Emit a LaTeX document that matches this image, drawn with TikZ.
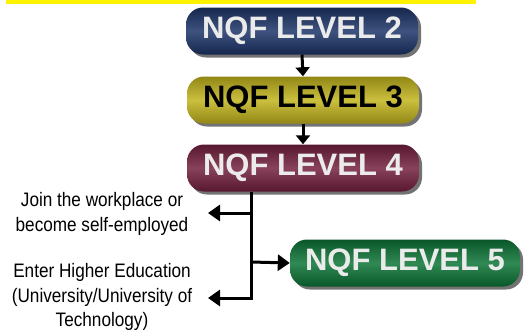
\documentclass[tikz,border=0pt]{standalone}
\usepackage{fontspec}
\setmainfont{Liberation Sans}
\newfontfamily\narrowfont[FakeStretch=0.88]{Liberation Sans}
\usetikzlibrary{arrows.meta,shadows}

\definecolor{navy}{HTML}{1C3468}
\definecolor{olive}{HTML}{C2B41C}
\definecolor{wine}{HTML}{74203E}
\definecolor{leaf}{HTML}{0C7436}

\tikzset{
  level/.style={rounded corners=17pt, minimum width=232pt, minimum height=47pt,
    font=\fontsize{31}{31}\selectfont\bfseries, inner sep=0pt,
    shading angle=70, top color=#1!75!black, bottom color=#1!75!black, middle color=#1!85!white,
    drop shadow={shadow xshift=3pt, shadow yshift=-3pt, fill=black!55, opacity=1}},
  flow/.style={line width=3pt, -{Triangle[length=12pt,width=16pt]}},
  note/.style={align=center, font=\narrowfont\fontsize{19.5}{24.5}\selectfont}
}

\begin{document}
\begin{tikzpicture}[x=1pt,y=-1pt]
  \useasboundingbox (0,0) rectangle (529,333);
  \fill[yellow] (6,0) rectangle (476,3.5);

  \node[level=navy, text=black!8] (L2) at (302,31) {NQF LEVEL 2};
  \node[level=olive, text=black] (L3) at (303,100) {NQF LEVEL 3};
  \node[level=wine, text=black!8] (L4) at (303,168) {NQF LEVEL 4};
  \node[level=leaf, text=black!8, minimum width=230pt] (L5) at (405,263) {NQF LEVEL 5};

  \node[note] (work) at (102,214) {Join the workplace or\\become self-employed};
  \node[note] (edu) at (102,297) {Enter Higher Education\\(University/University of\\Technology)};

  \coordinate (t0) at (251,192);
  \coordinate (t1) at (251,213);
  \coordinate (t2) at (251,262);
  \coordinate (a1) at (208,213);
  \coordinate (a3) at (208,298);

  \draw[flow, -{Triangle[length=9pt,width=14pt]}] (L2.south) -- (L3.north);
  \draw[flow, -{Triangle[length=9pt,width=14pt]}] (L3.south) -- (L4.north);
  \draw[flow] (t0) |- (a3);
  \draw[flow] (t1) -- (a1);
  \draw[flow] (t2) -- (L5.west);
\end{tikzpicture}
\end{document}
